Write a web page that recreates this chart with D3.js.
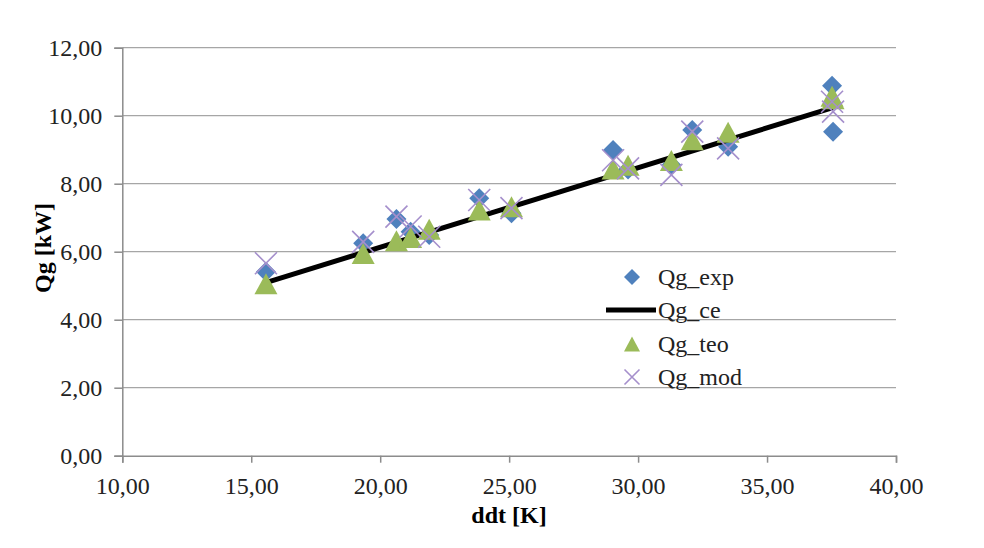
<!DOCTYPE html>
<html><head><meta charset="utf-8">
<script src="https://cdn.jsdelivr.net/npm/d3@7/dist/d3.min.js"></script>
<style>body{margin:0;background:#fff}svg{display:block}</style>
</head><body>
<svg id="c" width="984" height="548"></svg>
<script>
const ddt   = [15.57, 19.34, 20.63, 21.18, 21.90, 23.84, 25.09, 29.03, 29.61, 31.29, 32.10, 33.49, 37.52, 37.56];
const qgExp = [5.41, 6.25, 6.96, 6.59, 6.49, 7.57, 7.13, 8.99, 8.42, 8.55, 9.58, 9.09, 10.88, 9.53];
const qgTeo = [5.06, 5.95, 6.32, 6.42, 6.66, 7.23, 7.32, 8.43, 8.54, 8.68, 9.29, 9.51, 10.57, 10.50];
const qgMod = [5.66, 6.29, 7.03, 6.74, 6.44, 7.52, 7.28, 8.69, 8.45, 8.26, 9.53, 9.04, 10.41, 10.12];
const ceX   = [15.60, 37.55];
const ceY   = [5.10, 10.24];
const xTicks = [10, 15, 20, 25, 30, 35, 40];
const yTicks = [0, 2, 4, 6, 8, 10, 12];
const seriesNames = ["Qg_exp", "Qg_ce", "Qg_teo", "Qg_mod"];

const svg = d3.select("#c");
const L = 122.3, R = 896, T = 47.7, B = 455.7;
const x = d3.scaleLinear().domain([10, 40]).range([L, R]);
const y = d3.scaleLinear().domain([0, 12]).range([B, T]);
const fmt = v => d3.format(".2f")(v).replace(".", ",");
const FONT = "'Liberation Serif','Times New Roman',serif";
const FS = 24;

// gridlines
svg.append("g").selectAll("line").data(yTicks.filter(v => v > 0)).join("line")
  .attr("x1", L).attr("x2", R).attr("y1", d => y(d)).attr("y2", d => y(d))
  .attr("stroke", "#a6a6a6").attr("stroke-width", 1.3);

// axes
const yAxis = svg.append("g").attr("transform", `translate(${L},0)`)
  .call(d3.axisLeft(y).tickValues(yTicks).tickFormat(fmt).tickSize(8).tickPadding(12));
const xAxis = svg.append("g").attr("transform", `translate(0,${B})`)
  .call(d3.axisBottom(x).tickValues(xTicks).tickFormat(fmt).tickSize(7).tickPadding(14));
[yAxis, xAxis].forEach(a => {
  a.select(".domain").attr("stroke", "#8c8c8c").attr("stroke-width", 1.5);
  a.selectAll(".tick line").attr("stroke", "#8c8c8c").attr("stroke-width", 1.5);
  a.selectAll("text").attr("font-family", FONT).attr("font-size", FS).attr("fill", "#222");
});

// axis titles
svg.append("text").attr("x", 509).attr("y", 523).attr("text-anchor", "middle")
  .attr("font-family", FONT).attr("font-weight", "bold").attr("font-size", FS).text("ddt [K]");
svg.append("text").attr("transform", "translate(51,248) rotate(-90)").attr("text-anchor", "middle")
  .attr("font-family", FONT).attr("font-weight", "bold").attr("font-size", FS).text("Qg [kW]");

const pts = ddt.map((d, i) => ({x: d, exp: qgExp[i], teo: qgTeo[i], mod: qgMod[i]}));

function drawDiamond(g, cx, cy, s) {
  g.append("path").attr("d", `M${cx},${cy - s}L${cx + s},${cy}L${cx},${cy + s}L${cx - s},${cy}Z`)
    .attr("fill", "#4f81bd");
}
function drawTri(g, cx, cy, w, h) {
  g.append("path").attr("d", `M${cx},${cy - h / 2}L${cx + w / 2},${cy + h / 2}L${cx - w / 2},${cy + h / 2}Z`)
    .attr("fill", "#9bbb59");
}
function drawX(g, cx, cy, s) {
  g.append("path").attr("d", `M${cx - s},${cy - s}L${cx + s},${cy + s}M${cx - s},${cy + s}L${cx + s},${cy - s}`)
    .attr("stroke", "#a58fcc").attr("stroke-width", 1.6).attr("fill", "none");
}

const gm = svg.append("g");
pts.forEach(p => drawDiamond(gm, x(p.x), y(p.exp), 10));
const line = d3.line().x(d => x(d[0])).y(d => y(d[1]));
gm.append("path").attr("d", line(ceX.map((v, i) => [v, ceY[i]])))
  .attr("stroke", "#000").attr("stroke-width", 5).attr("fill", "none");
pts.forEach(p => drawTri(gm, x(p.x), y(p.teo), 23, 21));
pts.forEach(p => drawX(gm, x(p.x), y(p.mod), 11));

// legend
const lg = svg.append("g");
const lx = 632, rows = [277, 310, 344, 377];
drawDiamond(lg, lx, rows[0], 8);
lg.append("line").attr("x1", 606).attr("x2", 656).attr("y1", rows[1]).attr("y2", rows[1])
  .attr("stroke", "#000").attr("stroke-width", 5);
drawTri(lg, lx, rows[2], 16, 15);
drawX(lg, lx, rows[3], 7.5);
seriesNames.forEach((n, i) => {
  lg.append("text").attr("x", 658).attr("y", rows[i] + 8)
    .attr("font-family", FONT).attr("font-size", FS).attr("fill", "#222").text(n);
});
</script>
</body></html>
